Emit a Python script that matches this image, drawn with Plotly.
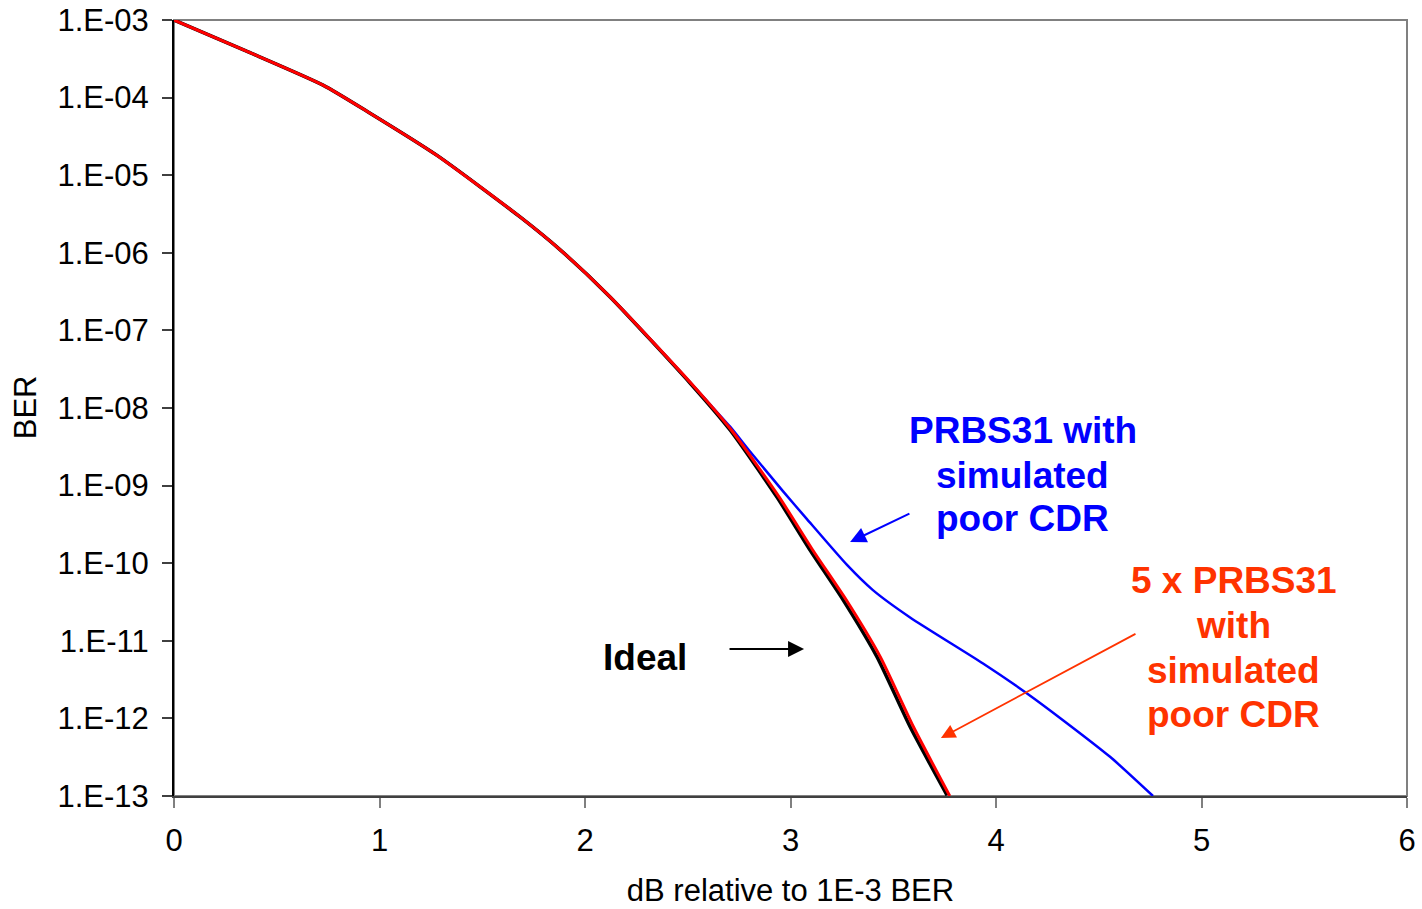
import plotly.graph_objects as go

# x: dB relative to 1E-3 BER ; y: BER
ideal_x = [0.0, 0.35, 0.725, 0.954, 1.28, 1.684, 1.878, 2.122, 2.511, 2.706, 2.934, 3.095, 3.255, 3.421, 3.582, 3.762]
ideal_ber = [1e-3, 4.0e-4, 1.45e-4, 6.3e-5, 1.8e-5, 2.9e-6, 1.1e-6, 2.7e-7, 2.1e-8, 5.2e-9, 7.1e-10, 1.48e-10, 3.4e-11, 6.2e-12, 7.8e-13, 1.02e-13]

poor_x = [0.0, 0.35, 0.725, 0.954, 1.28, 1.684, 1.878, 2.122, 2.515, 2.712, 2.945, 3.108, 3.270, 3.437, 3.598, 3.775]
poor_ber = [1e-3, 4.0e-4, 1.45e-4, 6.3e-5, 1.8e-5, 2.9e-6, 1.1e-6, 2.7e-7, 2.1e-8, 5.2e-9, 7.1e-10, 1.48e-10, 3.4e-11, 6.2e-12, 7.8e-13, 1.0e-13]

prbs_x = [0.0, 0.35, 0.725, 0.954, 1.28, 1.684, 1.878, 2.122, 2.515, 2.61, 2.706, 2.803, 2.963, 3.080, 3.275, 3.401, 3.582, 3.937, 4.151, 4.326, 4.555, 4.764]
prbs_ber = [1e-3, 4.0e-4, 1.45e-4, 6.3e-5, 1.8e-5, 2.9e-6, 1.1e-6, 2.7e-7, 2.1e-8, 1.1e-8, 5.75e-9, 2.75e-9, 8.5e-10, 3.7e-10, 9.5e-11, 4.5e-11, 2.0e-11, 5.1e-12, 2.1e-12, 9.5e-13, 3.2e-13, 1.0e-13]

ytick_vals = [1e-3, 1e-4, 1e-5, 1e-6, 1e-7, 1e-8, 1e-9, 1e-10, 1e-11, 1e-12, 1e-13]
ytick_text = ["1.E-03", "1.E-04", "1.E-05", "1.E-06", "1.E-07", "1.E-08", "1.E-09", "1.E-10", "1.E-11", "1.E-12", "1.E-13"]
xtick_vals = [0, 1, 2, 3, 4, 5, 6]

blue_lines = ["PRBS31 with", "simulated", "poor CDR"]
red_lines = ["5 x PRBS31", "with", "simulated", "poor CDR"]

FONT = "Liberation Sans, Arial, sans-serif"
BLUE = "#0000FF"
ORANGE = "#FF3300"

fig = go.Figure()
fig.add_trace(go.Scatter(x=prbs_x, y=prbs_ber, mode="lines",
                         line=dict(color=BLUE, width=2.5, shape="spline", smoothing=0.6), showlegend=False))
fig.add_trace(go.Scatter(x=ideal_x, y=ideal_ber, mode="lines",
                         line=dict(color="black", width=3.5, shape="spline", smoothing=0.6), showlegend=False))
fig.add_trace(go.Scatter(x=poor_x, y=poor_ber, mode="lines",
                         line=dict(color="#FF0000", width=3, shape="spline", smoothing=0.6), showlegend=False))

# border (top/right gray)
fig.add_shape(type="rect", xref="paper", yref="paper", x0=0, y0=0, x1=1, y1=1,
              line=dict(color="#808080", width=2), layer="below")

ann = []
ann.append(dict(x=2.292, y=-11.209, text="<b>Ideal</b>", showarrow=False,
                font=dict(color="black", size=37, family=FONT)))
blue_y = [-8.284, -8.864, -9.430]
for t, yy in zip(blue_lines, blue_y):
    ann.append(dict(x=4.131, y=yy, text="<b>%s</b>" % t, showarrow=False,
                    font=dict(color=BLUE, size=37, family=FONT)))
red_y = [-10.229, -10.809, -11.389, -11.956]
for t, yy in zip(red_lines, red_y):
    ann.append(dict(x=5.158, y=yy, text="<b>%s</b>" % t, showarrow=False,
                    font=dict(color=ORANGE, size=37, family=FONT)))
# y-axis title
ann.append(dict(x=-0.1208, y=0.501, xref="paper", yref="paper", text="BER", textangle=-90,
                xanchor="center", yanchor="middle",
                showarrow=False, font=dict(color="black", size=31, family=FONT)))
# arrows
ann.append(dict(x=3.066, y=-11.106, ax=2.696, ay=-11.106, axref="x", ayref="y", text="",
                showarrow=True, arrowhead=2, arrowsize=1.6, arrowwidth=2, arrowcolor="black"))
ann.append(dict(x=3.290, y=-9.727, ax=3.586, ay=-9.353, axref="x", ayref="y", text="",
                showarrow=True, arrowhead=2, arrowsize=1.6, arrowwidth=2, arrowcolor=BLUE))
ann.append(dict(x=3.732, y=-12.253, ax=4.686, ay=-10.90, axref="x", ayref="y", text="",
                showarrow=True, arrowhead=2, arrowsize=1.6, arrowwidth=1.8, arrowcolor=ORANGE))

fig.update_layout(
    width=1422, height=909,
    margin=dict(l=174, r=15, t=20, b=113),
    paper_bgcolor="white", plot_bgcolor="white",
    font=dict(family=FONT, size=31, color="black"),
    annotations=ann,
    xaxis=dict(range=[0, 6], tickvals=xtick_vals, showgrid=False, zeroline=False, automargin=False,
               showline=True, linecolor="#404040", linewidth=2,
               ticks="outside", ticklen=10, tickcolor="#808080", tickwidth=2, ticklabelstandoff=6,
               tickfont=dict(size=31), title=dict(text="dB relative to 1E-3 BER", font=dict(size=31), standoff=22)),
    yaxis=dict(type="log", range=[-13, -3], tickvals=ytick_vals, ticktext=ytick_text,
               showgrid=False, zeroline=False, automargin=False,
               showline=True, linecolor="black", linewidth=2,
               ticks="outside", ticklen=10, tickcolor="#404040", tickwidth=2, ticklabelstandoff=7,
               tickfont=dict(size=31)),
)

fig.write_html("out.html")
